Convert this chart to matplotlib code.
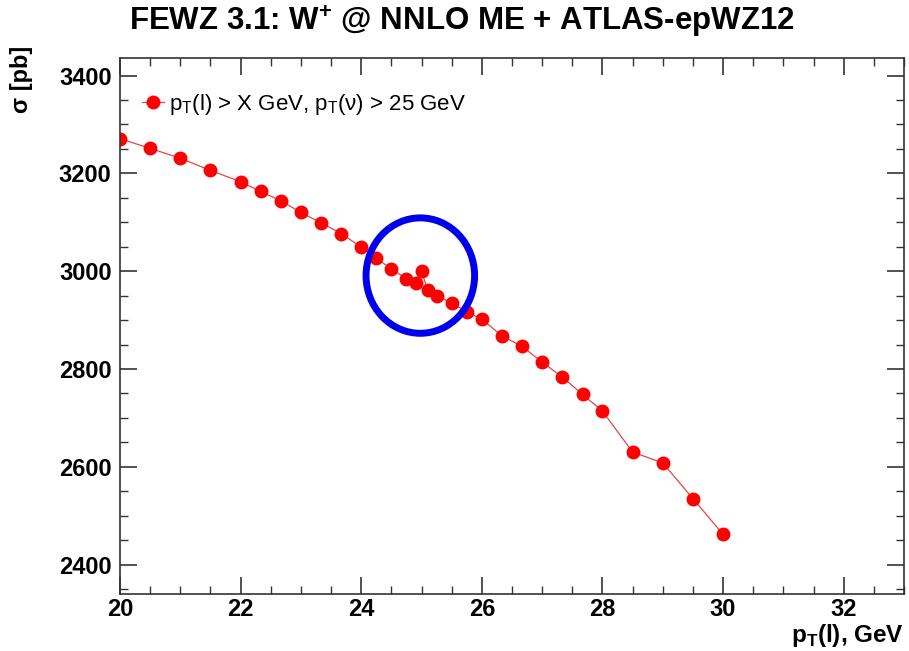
import matplotlib
matplotlib.use('Agg')
import matplotlib.pyplot as plt
from matplotlib.patches import Ellipse
from matplotlib.ticker import MultipleLocator

plt.rcParams['font.family'] = ['Liberation Sans', 'DejaVu Sans']

# pT(l) threshold [GeV] and cross section [pb]
pt_cut = [20.0, 20.5, 21.0, 21.5, 22.0, 22.33, 22.67, 23.0, 23.33, 23.67,
          24.0, 24.25, 24.5, 24.75, 24.9, 25.0, 25.1, 25.25, 25.5, 25.75,
          26.0, 26.33, 26.67, 27.0, 27.33, 27.67, 28.0, 28.5, 29.0, 29.5, 30.0]
sigma = [3271, 3251, 3231, 3206, 3183, 3163, 3144, 3120, 3099, 3077,
         3049, 3026, 3005, 2984, 2975, 3000, 2962, 2950, 2935, 2917,
         2902, 2868, 2846, 2814, 2784, 2748, 2714, 2630, 2608, 2535, 2462]

legend_label = r'p$_\mathregular{T}$(l) > X GeV, p$_\mathregular{T}$(ν) > 25 GeV'
title = r'FEWZ 3.1: W$^\mathregular{+}$ @ NNLO ME + ATLAS-epWZ12'

fig = plt.figure(figsize=(9.09, 6.51), dpi=100)
ax = fig.add_axes([0.132, 0.0876, 0.8625, 0.8234])

ax.plot(pt_cut, sigma, color='#e04848', lw=0.9, marker='o', markersize=9,
        markerfacecolor='red', markeredgecolor='red', label=legend_label)

# highlighted point
ax.add_patch(Ellipse((24.98, 2991), 1.8, 236, fill=False, edgecolor='#0000ee',
                     lw=5, zorder=5))

ax.set_xlim(20, 33)
ax.set_ylim(2340, 3436)
ax.xaxis.set_major_locator(MultipleLocator(2))
ax.xaxis.set_minor_locator(MultipleLocator(0.5))
ax.yaxis.set_major_locator(MultipleLocator(200))
ax.yaxis.set_minor_locator(MultipleLocator(50))
ax.tick_params(which='both', direction='in', top=True, right=True, color='#333333')
ax.tick_params(which='major', length=12, width=1.2, labelsize=17)
ax.tick_params(axis='x', which='major', pad=3)
ax.tick_params(axis='y', which='major', pad=6)
ax.tick_params(which='minor', length=6, width=1.0)
for lab in ax.get_xticklabels() + ax.get_yticklabels():
    lab.set_fontweight('bold')
for s in ax.spines.values():
    s.set_color('#333333')
    s.set_linewidth(1.2)

ax.set_xlabel(r'p$_\mathregular{T}$(l), GeV', fontsize=17.5, fontweight='bold')
ax.xaxis.set_label_coords(1.0, -0.053)
ax.xaxis.label.set_horizontalalignment('right')
ax.xaxis.label.set_verticalalignment('top')
ax.set_ylabel('σ [pb]', fontsize=17, fontweight='bold')
ax.yaxis.set_label_coords(-0.125, 1.022)
ax.yaxis.label.set_verticalalignment('center')
ax.yaxis.label.set_horizontalalignment('right')

leg = ax.legend(loc='center left', bbox_to_anchor=(0.0, 0.914), frameon=False,
                fontsize=16, handlelength=1.0, handletextpad=0.2, borderaxespad=0.6)

fig.text(0.508, 0.966, title, ha='center', va='center', fontsize=22.5, fontweight='bold')

fig.savefig('out.png', dpi=100)
